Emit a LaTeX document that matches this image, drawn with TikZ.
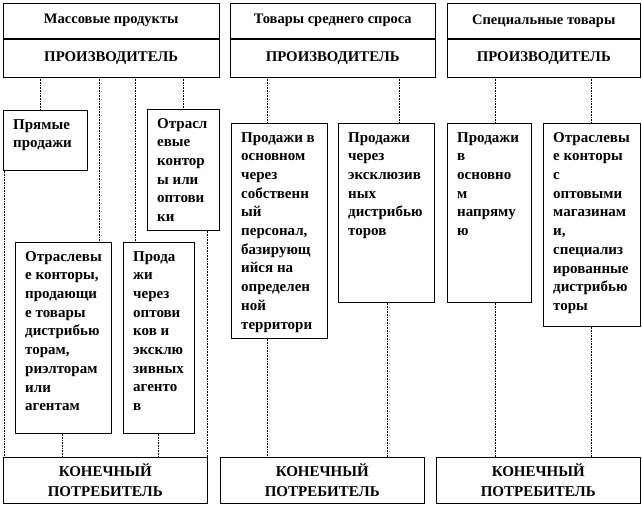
\documentclass[tikz,border=0pt]{standalone}
\usepackage{fontspec}
\setmainfont{Liberation Serif}
\usetikzlibrary{positioning}
\tikzset{
  frame/.style={draw=black, line width=0.5pt, anchor=north west, inner sep=0pt},
  headbox/.style={frame, font=\bfseries\fontsize{14.5}{16}\selectfont},
  prodbox/.style={frame, font=\bfseries\fontsize{14.8}{16}\selectfont},
  chanbox/.style={frame, minimum width=#1},
  chantext/.style={anchor=north west, align=left, inner xsep=10pt, inner ysep=9pt,
    font=\bfseries\fontsize{15}{18.7}\selectfont},
  consbox/.style={frame, align=center, font=\bfseries\fontsize{15}{20}\selectfont},
  conn/.style={draw=black, line width=0.6pt, densely dotted},
}
\begin{document}
\begin{tikzpicture}[x=1pt, y=-1pt]
\useasboundingbox (0,0) rectangle (642,507);

% product groups and producers
\node[headbox, minimum width=216, minimum height=35] (catA) at (3,3) {Массовые продукты};
\node[headbox, minimum width=205, minimum height=35] (catB) at (230,3) {Товары среднего спроса};
\node[headbox, minimum width=193, minimum height=35] (catC) at (447,3) {Специальные товары};
\node[prodbox, minimum width=216, minimum height=38] (prodA) at (catA.south west) {ПРОИЗВОДИТЕЛЬ};
\node[prodbox, minimum width=205, minimum height=38] (prodB) at (catB.south west) {ПРОИЗВОДИТЕЛЬ};
\node[prodbox, minimum width=193, minimum height=38] (prodC) at (catC.south west) {ПРОИЗВОДИТЕЛЬ};

% sales channels
\node[chanbox=84, minimum height=60] (direct) at (3,110)
  {}; \node[chantext] at (direct.north west) {Прямые\\продажи};
\node[chanbox=72, minimum height=121] (branch) at (147,109)
  {}; \node[chantext] at (branch.north west) {Отрасл\\евые\\контор\\ы или\\оптови\\ки};
\node[chanbox=96, minimum height=191] (offices) at (15,242)
  {}; \node[chantext] at (offices.north west) {Отраслевы\\е конторы,\\продающи\\е товары\\дистрибью\\торам,\\риэлторам\\или\\агентам};
\node[chanbox=71, minimum height=191] (wholesale) at (123,242)
  {}; \node[chantext] at (wholesale.north west) {Прода\\жи\\через\\оптови\\ков и\\эксклю\\зивных\\агенто\\в};
\node[chanbox=96, minimum height=215] (staff) at (231,123)
  {}; \node[chantext] at (staff.north west) {Продажи в\\основном\\через\\собственн\\ый\\персонал,\\базирующ\\ийся на\\определен\\ной\\территори};
\node[chanbox=96, minimum height=179] (exclus) at (338,123)
  {}; \node[chantext] at (exclus.north west) {Продажи\\через\\эксклюзив\\ных\\дистрибью\\торов};
\node[chanbox=84, minimum height=179] (mainly) at (447,123)
  {}; \node[chantext] at (mainly.north west) {Продажи\\в\\основно\\м\\напряму\\ю};
\node[chanbox=97, minimum height=203] (spec) at (543,123)
  {}; \node[chantext] at (spec.north west) {Отраслевы\\е конторы\\с\\оптовыми\\магазинам\\и,\\специализ\\ированные\\дистрибью\\торы};

% end consumers
\node[consbox, minimum width=204, minimum height=46] (consA) at (3,457) {КОНЕЧНЫЙ\\ПОТРЕБИТЕЛЬ};
\node[consbox, minimum width=204, minimum height=46] (consB) at (220,457) {КОНЕЧНЫЙ\\ПОТРЕБИТЕЛЬ};
\node[consbox, minimum width=204, minimum height=46] (consC) at (436,457) {КОНЕЧНЫЙ\\ПОТРЕБИТЕЛЬ};

% connectors
\foreach \x/\a/\b in {40/prodA/direct, 99/prodA/offices, 135/prodA/wholesale, 183/prodA/branch,
                      267/prodB/staff, 399/prodB/exclus, 495/prodC/mainly, 591/prodC/spec,
                      4/direct/consA, 62/offices/consA, 158/wholesale/consA, 207/branch/consA,
                      267/staff/consB, 387/exclus/consB, 495/mainly/consC, 591/spec/consC}
  \draw[conn] (\x,0 |- \a.south) -- (\x,0 |- \b.north);

\end{tikzpicture}
\end{document}
